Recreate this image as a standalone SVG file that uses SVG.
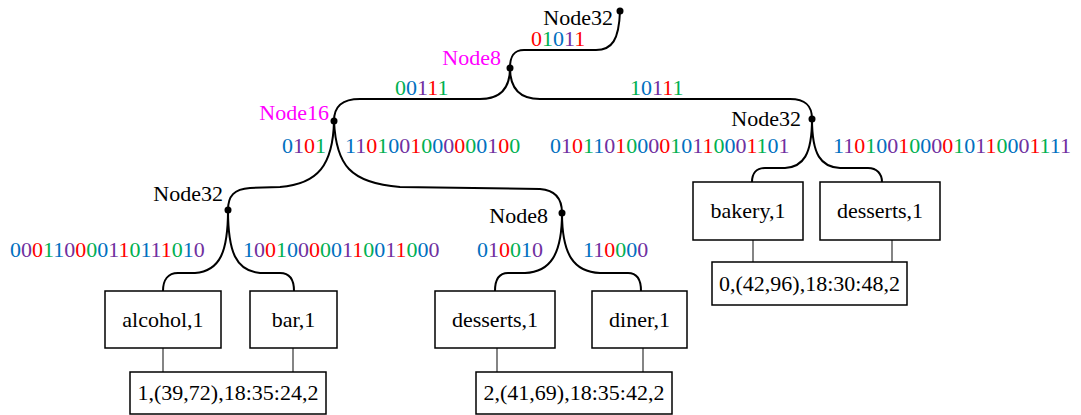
<svg xmlns="http://www.w3.org/2000/svg" width="1081" height="415" viewBox="0 0 1081 415">
<style>
text{font-family:'Liberation Serif',serif;font-size:22px;fill:#000}
.lbl{text-anchor:end}
.mg{fill:#FF00FF}
.mid{text-anchor:middle}
.r{fill:#FF0000}.g{fill:#00B050}.b{fill:#0070C0}.p{fill:#7030A0}
.edge{fill:none;stroke:#000;stroke-width:2}
.link{stroke:#333;stroke-width:1.2}
.box{fill:#fff;stroke:#000;stroke-width:1.5}
.dot{fill:#000}
</style>
<rect width="1081" height="415" fill="#fff"/>
<g id="connectors" font-family="Liberation Serif, serif">
<path class="edge" d="M620,11 C619,40 612,50 596,50 L524,50 C513,50 510,57 510,68"/>
<path class="edge" d="M510,68 C510,88 500,99 480,99 L360,99 C342,99 334,106 334,121"/>
<path class="edge" d="M510,68 C510,88 520,99 540,99 L790,99 C806,99 812,106 812,119"/>
<path class="edge" d="M334,121 C333,165 318,184 280,187 L250,188 C234,189 228,196 228,210"/>
<path class="edge" d="M334,121 C336,165 350,183 400,187 L540,189 C555,190 562,198 562,213"/>
<path class="edge" d="M812,119 C812,155 803,167 785,168 L765,168 C756,168 752,174 752,182"/>
<path class="edge" d="M812,119 C812,155 821,167 840,168 L868,168 C877,168 882,174 882,182"/>
<path class="edge" d="M228,210 C228,252 220,271 195,273 L178,273 C168,273 163,280 163,291"/>
<path class="edge" d="M228,210 C228,252 236,271 260,273 L280,273 C290,273 294,280 294,291"/>
<path class="edge" d="M562,213 C562,255 550,272 525,273 L508,273 C499,273 495,280 495,291"/>
<path class="edge" d="M562,213 C562,255 574,272 600,273 L628,273 C637,273 641,280 641,291"/>
<line class="link" x1="163" y1="348" x2="163" y2="372"/>
<line class="link" x1="293" y1="348" x2="293" y2="372"/>
<line class="link" x1="497" y1="348" x2="497" y2="372"/>
<line class="link" x1="643" y1="348" x2="643" y2="372"/>
<line class="link" x1="753" y1="240" x2="753" y2="262"/>
<line class="link" x1="892" y1="240" x2="892" y2="262"/>
<text x="531" y="46"><tspan class="r">0</tspan><tspan class="g">1</tspan><tspan class="b">0</tspan><tspan class="p">1</tspan><tspan class="r">1</tspan></text>
<text x="395" y="95"><tspan class="g">0</tspan><tspan class="b">0</tspan><tspan class="p">1</tspan><tspan class="r">1</tspan><tspan class="g">1</tspan></text>
<text x="630" y="95"><tspan class="g">1</tspan><tspan class="b">0</tspan><tspan class="p">1</tspan><tspan class="r">1</tspan><tspan class="g">1</tspan></text>
<text x="282" y="153"><tspan class="b">0</tspan><tspan class="p">1</tspan><tspan class="r">0</tspan><tspan class="g">1</tspan></text>
<text x="345" y="153"><tspan class="b">1</tspan><tspan class="p">1</tspan><tspan class="r">0</tspan><tspan class="g">1</tspan><tspan class="b">0</tspan><tspan class="p">0</tspan><tspan class="r">1</tspan><tspan class="g">0</tspan><tspan class="b">0</tspan><tspan class="p">0</tspan><tspan class="r">0</tspan><tspan class="g">0</tspan><tspan class="b">0</tspan><tspan class="p">1</tspan><tspan class="r">0</tspan><tspan class="g">0</tspan></text>
<text x="550" y="153"><tspan class="b">0</tspan><tspan class="p">1</tspan><tspan class="r">0</tspan><tspan class="g">1</tspan><tspan class="b">1</tspan><tspan class="p">0</tspan><tspan class="r">1</tspan><tspan class="g">0</tspan><tspan class="b">0</tspan><tspan class="p">0</tspan><tspan class="r">0</tspan><tspan class="g">1</tspan><tspan class="b">0</tspan><tspan class="p">1</tspan><tspan class="r">1</tspan><tspan class="g">0</tspan><tspan class="b">0</tspan><tspan class="p">0</tspan><tspan class="r">1</tspan><tspan class="g">1</tspan><tspan class="b">0</tspan><tspan class="p">1</tspan></text>
<text x="833" y="153"><tspan class="b">1</tspan><tspan class="p">1</tspan><tspan class="r">0</tspan><tspan class="g">1</tspan><tspan class="b">0</tspan><tspan class="p">0</tspan><tspan class="r">1</tspan><tspan class="g">0</tspan><tspan class="b">0</tspan><tspan class="p">0</tspan><tspan class="r">0</tspan><tspan class="g">1</tspan><tspan class="b">0</tspan><tspan class="p">1</tspan><tspan class="r">1</tspan><tspan class="g">0</tspan><tspan class="b">0</tspan><tspan class="p">0</tspan><tspan class="r">1</tspan><tspan class="g">1</tspan><tspan class="b">1</tspan><tspan class="p">1</tspan></text>
<text x="10" y="257"><tspan class="b">0</tspan><tspan class="p">0</tspan><tspan class="r">0</tspan><tspan class="g">1</tspan><tspan class="b">1</tspan><tspan class="p">0</tspan><tspan class="r">0</tspan><tspan class="g">0</tspan><tspan class="b">0</tspan><tspan class="p">1</tspan><tspan class="r">1</tspan><tspan class="g">0</tspan><tspan class="b">1</tspan><tspan class="p">1</tspan><tspan class="r">1</tspan><tspan class="g">0</tspan><tspan class="b">1</tspan><tspan class="p">0</tspan></text>
<text x="243" y="257"><tspan class="b">1</tspan><tspan class="p">0</tspan><tspan class="r">0</tspan><tspan class="g">1</tspan><tspan class="b">0</tspan><tspan class="p">0</tspan><tspan class="r">0</tspan><tspan class="g">0</tspan><tspan class="b">0</tspan><tspan class="p">1</tspan><tspan class="r">1</tspan><tspan class="g">0</tspan><tspan class="b">0</tspan><tspan class="p">1</tspan><tspan class="r">1</tspan><tspan class="g">0</tspan><tspan class="b">0</tspan><tspan class="p">0</tspan></text>
<text x="477" y="257"><tspan class="b">0</tspan><tspan class="p">1</tspan><tspan class="r">0</tspan><tspan class="g">0</tspan><tspan class="b">1</tspan><tspan class="p">0</tspan></text>
<text x="583" y="257"><tspan class="b">1</tspan><tspan class="p">1</tspan><tspan class="r">0</tspan><tspan class="g">0</tspan><tspan class="b">0</tspan><tspan class="p">0</tspan></text>
</g>
<g id="n-root"><circle class="dot" cx="620" cy="11" r="3.5"/><text class="lbl" x="613" y="25">Node32</text></g>
<g id="n-node8"><circle class="dot" cx="510" cy="68" r="3.5"/><text class="lbl mg" x="501" y="65">Node8</text></g>
<g id="n-node16"><circle class="dot" cx="334" cy="121" r="3.5"/><text class="lbl mg" x="329" y="120">Node16</text></g>
<g id="n-node32r"><circle class="dot" cx="812" cy="119" r="3.5"/><text class="lbl" x="801" y="126">Node32</text></g>
<g id="n-node32l"><circle class="dot" cx="228" cy="210" r="3.5"/><text class="lbl" x="223" y="201">Node32</text></g>
<g id="n-node8m"><circle class="dot" cx="562" cy="213" r="3.5"/><text class="lbl" x="548" y="223">Node8</text></g>
<g id="leaf-alcohol"><rect class="box" x="105" y="291" width="116" height="57"/><text class="mid" x="163" y="327">alcohol,1</text></g>
<g id="leaf-bar"><rect class="box" x="250" y="291" width="87" height="57"/><text class="mid" x="293.5" y="327">bar,1</text></g>
<g id="leaf-desserts-a"><rect class="box" x="435" y="291" width="120" height="57"/><text class="mid" x="495" y="327">desserts,1</text></g>
<g id="leaf-diner"><rect class="box" x="592" y="291" width="95" height="57"/><text class="mid" x="639.5" y="327">diner,1</text></g>
<g id="leaf-bakery"><rect class="box" x="693" y="182" width="110" height="58"/><text class="mid" x="748" y="218">bakery,1</text></g>
<g id="leaf-desserts-b"><rect class="box" x="820" y="182" width="120" height="58"/><text class="mid" x="880" y="218">desserts,1</text></g>
<g id="info-1"><rect class="box" x="130" y="372" width="196" height="42"/><text class="mid" x="228" y="400">1,(39,72),18:35:24,2</text></g>
<g id="info-2"><rect class="box" x="476" y="372" width="196" height="42"/><text class="mid" x="574" y="400">2,(41,69),18:35:42,2</text></g>
<g id="info-3"><rect class="box" x="712" y="262" width="195" height="43"/><text class="mid" x="809.5" y="291">0,(42,96),18:30:48,2</text></g>
</svg>
